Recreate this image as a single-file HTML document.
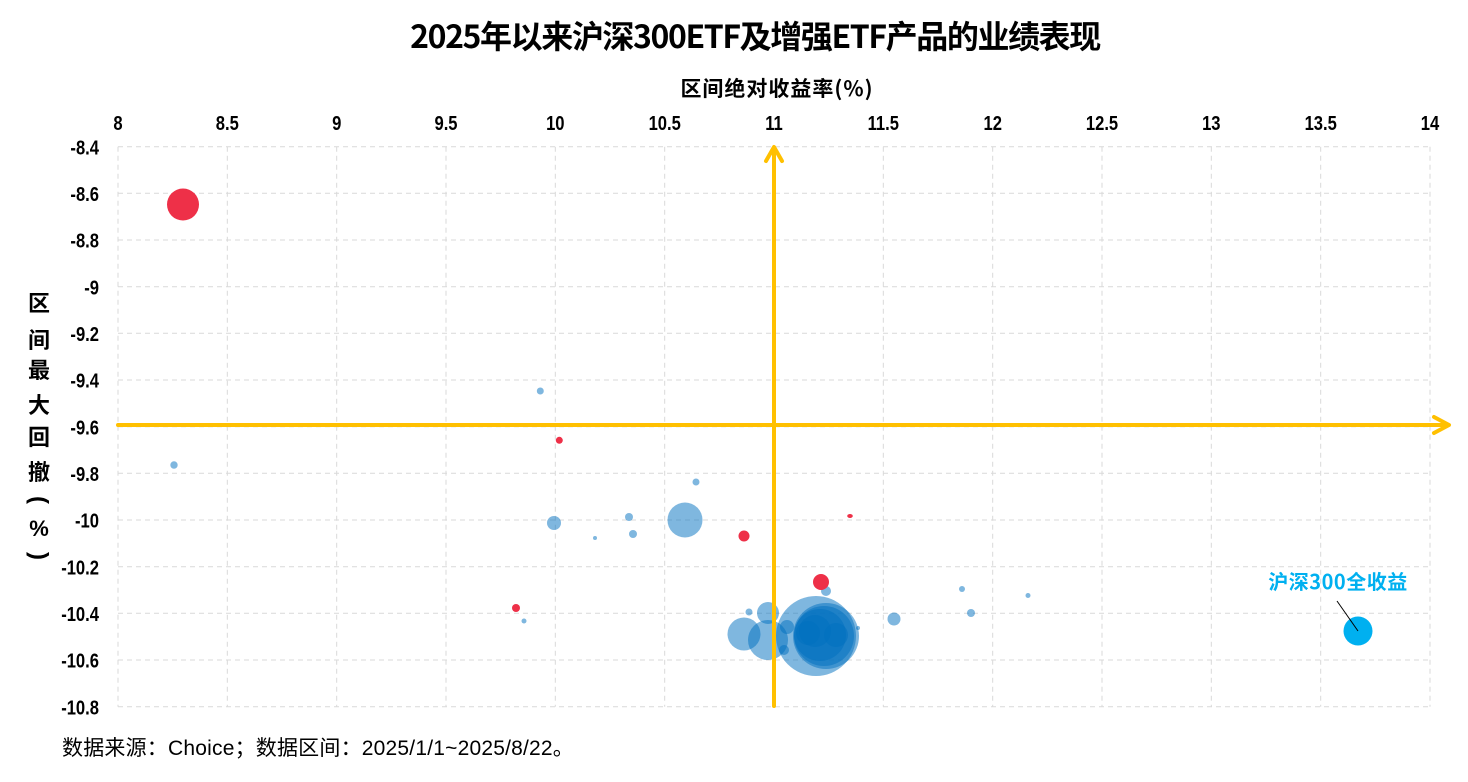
<!DOCTYPE html>
<html><head><meta charset="utf-8"><style>
html,body{margin:0;padding:0;background:#fff;}
svg{display:block;}
.tk{font-family:"Liberation Sans","Noto Sans CJK SC",sans-serif;font-weight:bold;font-size:20px;fill:#000;}
.cj{font-family:"Noto Sans CJK SC","WenQuanYi Zen Hei",sans-serif;font-weight:bold;fill:#000;}
</style></head><body>
<svg width="1468" height="782" viewBox="0 0 1468 782" xmlns="http://www.w3.org/2000/svg">
<rect width="1468" height="782" fill="#fff"/>
<!-- title -->
<text x="755" y="48" text-anchor="middle" class="cj" font-size="32" letter-spacing="-1.4">2025年以来沪深300ETF及增强ETF产品的业绩表现</text>
<!-- x axis title -->
<text x="777" y="96" text-anchor="middle" class="cj" font-size="21" letter-spacing="1">区间绝对收益率(%)</text>
<!-- grid -->
<g stroke="#D9D9D9" stroke-width="1" stroke-dasharray="5,4" fill="none">
<line x1="118" y1="146.7" x2="118" y2="706.7"/>
<line x1="227.3" y1="146.7" x2="227.3" y2="706.7"/>
<line x1="336.7" y1="146.7" x2="336.7" y2="706.7"/>
<line x1="446" y1="146.7" x2="446" y2="706.7"/>
<line x1="555.3" y1="146.7" x2="555.3" y2="706.7"/>
<line x1="664.7" y1="146.7" x2="664.7" y2="706.7"/>
<line x1="774" y1="146.7" x2="774" y2="706.7"/>
<line x1="883.3" y1="146.7" x2="883.3" y2="706.7"/>
<line x1="992.7" y1="146.7" x2="992.7" y2="706.7"/>
<line x1="1102" y1="146.7" x2="1102" y2="706.7"/>
<line x1="1211.3" y1="146.7" x2="1211.3" y2="706.7"/>
<line x1="1320.7" y1="146.7" x2="1320.7" y2="706.7"/>
<line x1="1430" y1="146.7" x2="1430" y2="706.7"/>
<line x1="118" y1="146.7" x2="1430" y2="146.7"/>
<line x1="118" y1="193.3" x2="1430" y2="193.3"/>
<line x1="118" y1="240" x2="1430" y2="240"/>
<line x1="118" y1="286.7" x2="1430" y2="286.7"/>
<line x1="118" y1="333.3" x2="1430" y2="333.3"/>
<line x1="118" y1="380" x2="1430" y2="380"/>
<line x1="118" y1="426.7" x2="1430" y2="426.7"/>
<line x1="118" y1="473.3" x2="1430" y2="473.3"/>
<line x1="118" y1="520" x2="1430" y2="520"/>
<line x1="118" y1="566.7" x2="1430" y2="566.7"/>
<line x1="118" y1="613.3" x2="1430" y2="613.3"/>
<line x1="118" y1="660" x2="1430" y2="660"/>
<line x1="118" y1="706.7" x2="1430" y2="706.7"/>
</g>
<!-- x tick labels -->
<g class="tk" text-anchor="middle">
<text transform="translate(118,130) scale(0.83,1)">8</text>
<text transform="translate(227.3,130) scale(0.83,1)">8.5</text>
<text transform="translate(336.7,130) scale(0.83,1)">9</text>
<text transform="translate(446,130) scale(0.83,1)">9.5</text>
<text transform="translate(555.3,130) scale(0.83,1)">10</text>
<text transform="translate(664.7,130) scale(0.83,1)">10.5</text>
<text transform="translate(774,130) scale(0.83,1)">11</text>
<text transform="translate(883.3,130) scale(0.83,1)">11.5</text>
<text transform="translate(992.7,130) scale(0.83,1)">12</text>
<text transform="translate(1102,130) scale(0.83,1)">12.5</text>
<text transform="translate(1211.3,130) scale(0.83,1)">13</text>
<text transform="translate(1320.7,130) scale(0.83,1)">13.5</text>
<text transform="translate(1430,130) scale(0.83,1)">14</text>
</g>
<!-- y tick labels -->
<g class="tk" text-anchor="end">
<text transform="translate(99,154.5) scale(0.83,1)">-8.4</text>
<text transform="translate(99,201) scale(0.83,1)">-8.6</text>
<text transform="translate(99,247.7) scale(0.83,1)">-8.8</text>
<text transform="translate(99,294.4) scale(0.83,1)">-9</text>
<text transform="translate(99,341) scale(0.83,1)">-9.2</text>
<text transform="translate(99,387.7) scale(0.83,1)">-9.4</text>
<text transform="translate(99,434.4) scale(0.83,1)">-9.6</text>
<text transform="translate(99,481) scale(0.83,1)">-9.8</text>
<text transform="translate(99,527.7) scale(0.83,1)">-10</text>
<text transform="translate(99,574.4) scale(0.83,1)">-10.2</text>
<text transform="translate(99,621) scale(0.83,1)">-10.4</text>
<text transform="translate(99,667.7) scale(0.83,1)">-10.6</text>
<text transform="translate(99,714.4) scale(0.83,1)">-10.8</text>
</g>
<!-- y axis title -->
<g class="cj" font-size="22" text-anchor="middle">
<text x="39" y="311">区</text>
<text x="39" y="348">间</text>
<text x="39" y="378">最</text>
<text x="39" y="413">大</text>
<text x="39" y="445">回</text>
<text x="39" y="480">撤</text>
</g>
<g font-family="'Liberation Sans',sans-serif" font-weight="bold" font-size="24" text-anchor="middle" dominant-baseline="central" fill="#000">
<text transform="translate(39,500) rotate(90)">(</text>
<text transform="translate(39,556) rotate(90)">)</text>
</g>
<text x="39" y="536" text-anchor="middle" font-family="'Liberation Sans',sans-serif" font-weight="bold" font-size="22" fill="#000">%</text>
<!-- blue bubbles -->
<g fill="#0070C0" fill-opacity="0.5">
<circle cx="174" cy="465" r="3.7"/>
<circle cx="540.3" cy="391" r="3.5"/>
<circle cx="696" cy="482" r="3.5"/>
<circle cx="554" cy="523" r="7"/>
<circle cx="595" cy="538" r="2"/>
<circle cx="629" cy="517" r="4"/>
<circle cx="633" cy="534" r="4"/>
<circle cx="685" cy="520" r="17.5"/>
<circle cx="826" cy="591" r="5"/>
<circle cx="524" cy="621" r="2.5"/>
<circle cx="749" cy="612" r="3.5"/>
<circle cx="768" cy="613" r="11"/>
<circle cx="744" cy="634" r="16.5"/>
<circle cx="768" cy="640" r="20"/>
<circle cx="816" cy="636" r="40"/>
<circle cx="826" cy="636" r="33"/>
<circle cx="824" cy="636" r="30"/>
<circle cx="820" cy="635" r="26"/>
<circle cx="787" cy="627" r="7"/>
<circle cx="784" cy="650" r="5"/>
<circle cx="858" cy="628" r="2"/>
<circle cx="894" cy="619" r="6.5"/>
<circle cx="962" cy="589" r="3"/>
<circle cx="971" cy="613" r="4"/>
<circle cx="1028" cy="595.5" r="2.5"/>
<circle cx="808" cy="633" r="12"/>
<circle cx="836" cy="635" r="12"/>
<circle cx="815" cy="631" r="16"/>
</g>
<!-- red bubbles -->
<g fill="#EE3048">
<circle cx="183" cy="204.5" r="16"/>
<circle cx="559.3" cy="440.3" r="3.5"/>
<circle cx="744" cy="536" r="5.5"/>
<ellipse cx="850" cy="516" rx="2.8" ry="2"/>
<circle cx="821" cy="582" r="8"/>
<circle cx="516" cy="608" r="4"/>
</g>
<!-- orange quadrant axes -->
<g stroke="#FFC000" stroke-width="4" fill="none" stroke-linecap="round" stroke-linejoin="round">
<line x1="118" y1="425" x2="1448" y2="425"/>
<polyline points="1434,417 1449,425 1434,433"/>
<line x1="774" y1="706" x2="774" y2="148"/>
<polyline points="766,161 774,147 782,161"/>
</g>
<!-- highlighted point -->
<circle cx="1358" cy="631" r="14.5" fill="#00B0F0"/>
<line x1="1337" y1="601" x2="1358" y2="631" stroke="#000" stroke-width="1"/>
<text x="1338" y="589" text-anchor="middle" class="cj" font-size="20" letter-spacing="0.5" style="fill:#00B0F0">沪深300全收益</text>
<!-- footer -->
<text x="62" y="755" font-family="'Liberation Sans','Noto Sans CJK SC',sans-serif" font-size="21" letter-spacing="0.2" fill="#000">数据来源：Choice；数据区间：2025/1/1~2025/8/22。</text>
</svg>
</body></html>
